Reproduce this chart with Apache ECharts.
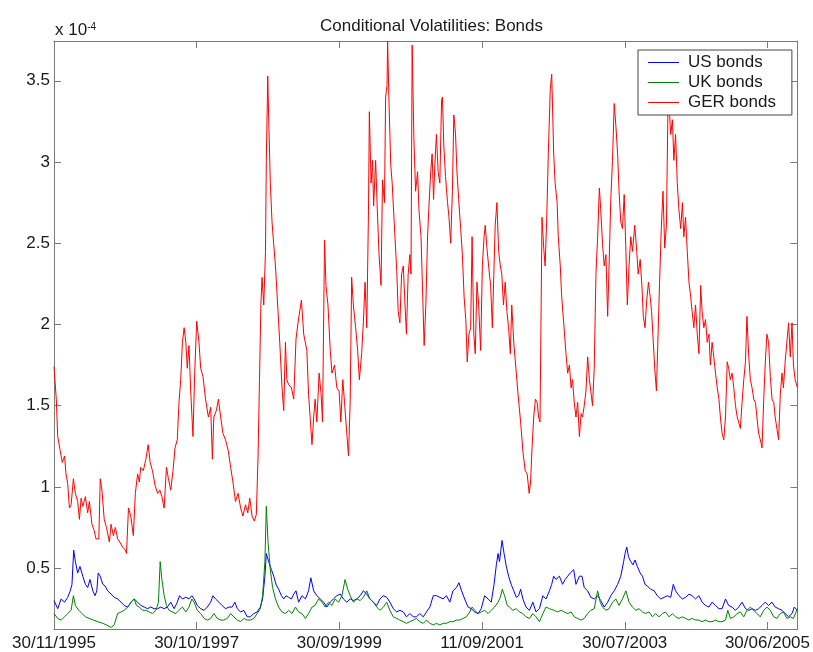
<!DOCTYPE html>
<html><head><meta charset="utf-8">
<script src="https://cdn.jsdelivr.net/npm/echarts@6/dist/echarts.min.js"></script>
<style>html,body{margin:0;padding:0;background:#fff}#c{width:813px;height:652px}</style>
</head><body><div id="c"></div>
<script>
// x = observation number (daily, from 30/11/1995), y = conditional volatility in units of 1e-4
const tickLabels = ['30/11/1995','30/10/1997','30/09/1999','11/09/2001','30/07/2003','30/06/2005'];
const seriesNames = ['US bonds','UK bonds','GER bonds'];

const usBonds = [[0,0.30],[13,0.25],[25,0.31],[37,0.29],[48,0.32],[57,0.36],[63,0.40],[69,0.61],[75,0.54],[83,0.47],[91,0.51],[101,0.45],[110,0.40],[118,0.38],[126,0.43],[136,0.36],[144,0.33],[150,0.36],[155,0.47],[162,0.45],[171,0.40],[179,0.39],[188,0.36],[200,0.34],[211,0.32],[223,0.31],[235,0.29],[246,0.27],[258,0.26],[270,0.29],[281,0.31],[293,0.29],[304,0.27],[316,0.26],[328,0.25],[339,0.26],[351,0.25],[363,0.25],[374,0.26],[386,0.25],[397,0.26],[409,0.29],[421,0.25],[432,0.29],[440,0.33],[450,0.31],[462,0.32],[473,0.31],[483,0.33],[491,0.31],[502,0.27],[514,0.25],[526,0.24],[537,0.26],[549,0.29],[557,0.33],[566,0.31],[578,0.29],[589,0.27],[601,0.25],[613,0.26],[624,0.26],[634,0.29],[642,0.25],[654,0.23],[665,0.24],[677,0.20],[688,0.20],[700,0.22],[712,0.23],[723,0.26],[731,0.31],[739,0.45],[744,0.59],[752,0.54],[762,0.49],[770,0.45],[778,0.40],[787,0.37],[797,0.33],[805,0.31],[813,0.33],[822,0.32],[832,0.31],[840,0.34],[848,0.36],[857,0.29],[869,0.33],[881,0.31],[892,0.36],[900,0.44],[910,0.36],[921,0.33],[933,0.31],[945,0.29],[956,0.26],[968,0.29],[979,0.31],[991,0.33],[1003,0.34],[1014,0.31],[1026,0.29],[1038,0.31],[1049,0.30],[1061,0.31],[1073,0.33],[1084,0.36],[1096,0.34],[1107,0.31],[1119,0.29],[1131,0.27],[1142,0.31],[1154,0.33],[1166,0.32],[1177,0.29],[1189,0.25],[1201,0.23],[1212,0.24],[1224,0.23],[1235,0.20],[1247,0.22],[1259,0.20],[1270,0.20],[1282,0.22],[1294,0.20],[1305,0.23],[1317,0.26],[1329,0.33],[1340,0.33],[1352,0.32],[1364,0.31],[1375,0.33],[1387,0.29],[1398,0.36],[1410,0.38],[1419,0.41],[1428,0.36],[1439,0.31],[1451,0.26],[1462,0.25],[1474,0.23],[1486,0.22],[1497,0.25],[1509,0.33],[1521,0.31],[1532,0.29],[1542,0.40],[1550,0.52],[1556,0.59],[1561,0.54],[1570,0.67],[1577,0.59],[1585,0.51],[1593,0.45],[1602,0.40],[1611,0.36],[1620,0.32],[1628,0.33],[1635,0.37],[1643,0.31],[1654,0.26],[1666,0.24],[1678,0.29],[1689,0.23],[1701,0.25],[1713,0.33],[1724,0.31],[1736,0.36],[1744,0.40],[1751,0.45],[1759,0.43],[1771,0.45],[1782,0.40],[1791,0.43],[1800,0.45],[1809,0.47],[1821,0.49],[1829,0.40],[1841,0.45],[1850,0.45],[1858,0.38],[1870,0.36],[1881,0.32],[1893,0.31],[1905,0.33],[1916,0.30],[1928,0.26],[1940,0.29],[1951,0.33],[1963,0.36],[1975,0.40],[1986,0.45],[1996,0.54],[2001,0.59],[2007,0.63],[2013,0.57],[2021,0.54],[2029,0.52],[2036,0.55],[2044,0.51],[2054,0.47],[2062,0.45],[2071,0.40],[2079,0.39],[2091,0.37],[2103,0.36],[2114,0.33],[2126,0.31],[2138,0.32],[2149,0.33],[2161,0.32],[2170,0.40],[2178,0.36],[2190,0.33],[2202,0.31],[2213,0.32],[2225,0.34],[2236,0.33],[2248,0.31],[2260,0.33],[2271,0.29],[2283,0.27],[2295,0.26],[2306,0.29],[2318,0.27],[2330,0.25],[2341,0.25],[2353,0.31],[2364,0.27],[2376,0.26],[2388,0.24],[2399,0.26],[2411,0.29],[2423,0.25],[2434,0.24],[2446,0.25],[2458,0.24],[2469,0.25],[2481,0.27],[2492,0.29],[2504,0.27],[2516,0.29],[2527,0.26],[2539,0.25],[2551,0.24],[2562,0.22],[2574,0.20],[2586,0.22],[2594,0.26],[2605,0.24]];

const ukBonds = [[0,0.22],[13,0.19],[25,0.18],[37,0.20],[48,0.22],[60,0.24],[68,0.33],[75,0.27],[87,0.24],[98,0.22],[110,0.20],[124,0.19],[138,0.18],[153,0.17],[171,0.16],[184,0.15],[200,0.135],[211,0.15],[223,0.22],[235,0.23],[246,0.24],[258,0.26],[270,0.29],[281,0.31],[289,0.27],[299,0.26],[310,0.24],[322,0.24],[333,0.23],[345,0.22],[357,0.24],[366,0.29],[372,0.54],[378,0.43],[386,0.33],[394,0.27],[403,0.24],[415,0.23],[427,0.22],[438,0.24],[450,0.26],[462,0.23],[473,0.26],[483,0.31],[491,0.29],[502,0.24],[514,0.22],[526,0.19],[537,0.18],[549,0.19],[560,0.22],[572,0.19],[584,0.18],[595,0.18],[607,0.19],[619,0.22],[630,0.20],[642,0.18],[654,0.17],[665,0.19],[677,0.18],[688,0.18],[700,0.19],[712,0.22],[723,0.25],[731,0.33],[739,0.54],[744,0.88],[750,0.66],[758,0.49],[766,0.38],[776,0.31],[787,0.26],[799,0.23],[811,0.22],[822,0.24],[834,0.22],[846,0.26],[857,0.23],[869,0.22],[881,0.19],[892,0.22],[904,0.26],[915,0.27],[927,0.31],[939,0.29],[950,0.26],[962,0.29],[974,0.27],[985,0.31],[997,0.29],[1009,0.33],[1020,0.43],[1029,0.37],[1038,0.33],[1049,0.29],[1061,0.31],[1073,0.30],[1084,0.32],[1096,0.36],[1107,0.31],[1119,0.29],[1131,0.26],[1142,0.24],[1154,0.26],[1166,0.29],[1177,0.24],[1189,0.20],[1201,0.19],[1212,0.18],[1224,0.17],[1235,0.16],[1247,0.17],[1259,0.18],[1270,0.19],[1282,0.17],[1294,0.16],[1305,0.18],[1317,0.16],[1329,0.15],[1340,0.16],[1352,0.15],[1364,0.16],[1375,0.16],[1387,0.17],[1398,0.17],[1410,0.18],[1422,0.18],[1433,0.19],[1445,0.20],[1457,0.23],[1465,0.26],[1474,0.24],[1486,0.22],[1497,0.23],[1509,0.24],[1521,0.22],[1532,0.24],[1544,0.26],[1556,0.29],[1564,0.32],[1571,0.37],[1579,0.33],[1588,0.27],[1596,0.26],[1608,0.24],[1620,0.25],[1631,0.23],[1643,0.22],[1654,0.20],[1666,0.19],[1678,0.22],[1689,0.20],[1701,0.17],[1713,0.22],[1724,0.26],[1736,0.25],[1742,0.25],[1753,0.24],[1765,0.23],[1777,0.24],[1788,0.23],[1800,0.22],[1812,0.23],[1823,0.20],[1835,0.19],[1847,0.18],[1858,0.19],[1870,0.22],[1881,0.24],[1893,0.25],[1905,0.36],[1914,0.29],[1922,0.26],[1934,0.24],[1945,0.25],[1957,0.29],[1969,0.31],[1980,0.27],[1992,0.31],[2004,0.36],[2015,0.29],[2027,0.26],[2039,0.24],[2050,0.25],[2062,0.23],[2073,0.22],[2085,0.23],[2097,0.20],[2108,0.22],[2120,0.20],[2132,0.22],[2143,0.23],[2155,0.20],[2167,0.22],[2178,0.20],[2190,0.19],[2202,0.20],[2213,0.19],[2225,0.18],[2236,0.19],[2248,0.18],[2260,0.18],[2271,0.17],[2283,0.18],[2295,0.17],[2306,0.17],[2318,0.18],[2330,0.17],[2341,0.17],[2353,0.18],[2361,0.24],[2370,0.19],[2382,0.20],[2394,0.22],[2405,0.23],[2417,0.20],[2428,0.24],[2440,0.26],[2452,0.24],[2463,0.22],[2475,0.20],[2487,0.24],[2498,0.26],[2510,0.24],[2522,0.20],[2533,0.19],[2545,0.22],[2556,0.23],[2568,0.19],[2580,0.20],[2591,0.19],[2605,0.25]];

const gerBonds = [[0,1.74],[8,1.54],[13,1.31],[22,1.22],[29,1.15],[37,1.19],[42,1.08],[48,1.02],[54,0.87],[60,0.89],[68,1.05],[75,0.96],[83,0.91],[89,0.80],[95,0.93],[101,0.88],[110,0.94],[118,0.84],[124,0.91],[133,0.77],[141,0.73],[147,0.68],[157,0.68],[162,1.05],[168,0.98],[176,0.80],[184,0.75],[194,0.66],[200,0.77],[208,0.70],[215,0.75],[223,0.68],[231,0.66],[240,0.63],[250,0.61],[254,0.59],[261,0.87],[269,0.82],[278,0.70],[285,0.96],[293,1.08],[299,1.03],[304,1.12],[313,1.10],[322,1.17],[330,1.26],[337,1.15],[345,1.10],[354,1.01],[363,0.96],[371,0.98],[378,0.94],[386,0.87],[394,1.12],[401,1.05],[409,0.98],[417,1.10],[424,1.24],[432,1.29],[438,1.52],[444,1.66],[450,1.89],[456,1.98],[462,1.89],[467,1.73],[473,1.87],[479,1.59],[487,1.31],[493,1.70],[500,2.02],[508,1.89],[514,1.73],[522,1.68],[531,1.54],[541,1.43],[549,1.49],[555,1.17],[560,1.43],[569,1.47],[576,1.54],[584,1.43],[592,1.33],[601,1.29],[611,1.22],[619,1.12],[627,1.03],[636,0.91],[645,0.96],[654,0.87],[662,0.82],[671,0.89],[679,0.84],[686,0.93],[694,0.82],[702,0.79],[709,0.83],[715,1.19],[720,1.66],[725,2.12],[729,2.29],[735,2.12],[741,2.45],[744,3.01],[749,3.53],[752,3.29],[758,2.87],[764,2.63],[770,2.49],[776,2.36],[785,2.08],[791,1.89],[799,1.61],[805,1.47],[811,1.89],[816,1.66],[822,1.63],[832,1.61],[840,1.54],[848,1.91],[855,2.01],[867,2.15],[875,1.94],[886,1.84],[892,1.57],[904,1.26],[910,1.43],[915,1.54],[921,1.40],[929,1.70],[936,1.57],[941,1.40],[948,2.52],[953,2.24],[960,2.12],[968,1.84],[974,1.70],[983,1.75],[991,1.61],[999,1.59],[1005,1.40],[1012,1.66],[1018,1.52],[1026,1.33],[1032,1.19],[1038,1.54],[1043,2.29],[1049,2.12],[1057,1.98],[1064,1.84],[1070,1.66],[1078,1.82],[1084,2.01],[1090,2.26],[1096,1.98],[1102,2.70],[1105,3.31],[1111,2.87],[1116,3.01],[1120,2.73],[1127,3.01],[1133,2.70],[1139,2.43],[1146,2.24],[1151,2.89],[1158,2.75],[1162,3.40],[1167,3.47],[1169,3.745],[1174,3.36],[1180,2.98],[1185,2.87],[1192,2.63],[1201,2.33],[1206,2.08],[1212,2.01],[1218,2.31],[1224,2.36],[1230,2.12],[1235,1.94],[1241,2.31],[1247,2.43],[1251,2.31],[1255,3.72],[1261,3.15],[1267,2.82],[1274,2.94],[1279,2.70],[1286,2.54],[1291,2.24],[1297,1.87],[1303,2.12],[1309,2.54],[1313,2.70],[1320,2.94],[1325,3.05],[1330,2.77],[1334,2.96],[1340,3.17],[1346,2.94],[1352,2.87],[1358,3.38],[1361,3.40],[1366,3.10],[1372,2.91],[1379,2.75],[1384,2.66],[1390,2.50],[1396,2.82],[1401,3.29],[1407,3.17],[1412,2.94],[1418,2.77],[1425,2.59],[1431,2.43],[1437,2.17],[1443,2.03],[1448,1.77],[1454,1.94],[1460,1.98],[1465,2.54],[1471,1.94],[1476,1.82],[1482,2.26],[1488,2.12],[1495,1.84],[1501,2.36],[1507,2.54],[1511,2.61],[1517,2.47],[1523,2.36],[1530,2.24],[1536,1.98],[1542,2.36],[1546,2.61],[1552,2.75],[1558,2.45],[1564,2.36],[1569,2.31],[1575,2.12],[1581,2.26],[1587,2.08],[1593,1.98],[1599,1.82],[1604,2.12],[1611,1.89],[1620,1.70],[1625,1.59],[1635,1.40],[1643,1.22],[1651,1.10],[1658,1.08],[1665,0.96],[1670,1.03],[1675,1.24],[1681,1.43],[1687,1.54],[1693,1.52],[1698,1.43],[1703,1.40],[1710,2.66],[1716,2.47],[1721,2.36],[1727,2.68],[1732,3.05],[1739,3.45],[1744,3.54],[1751,3.05],[1756,2.87],[1763,2.75],[1767,2.54],[1774,2.36],[1779,2.17],[1786,2.01],[1794,1.82],[1800,1.70],[1806,1.75],[1812,1.61],[1817,1.66],[1823,1.52],[1829,1.43],[1835,1.52],[1841,1.31],[1847,1.45],[1852,1.43],[1858,1.50],[1864,1.59],[1870,1.80],[1876,1.66],[1881,1.59],[1887,1.50],[1893,1.73],[1899,2.31],[1905,2.54],[1911,2.84],[1916,2.70],[1922,2.50],[1928,2.36],[1934,2.43],[1940,2.05],[1945,2.36],[1951,2.77],[1957,3.01],[1963,3.36],[1969,3.22],[1975,3.05],[1980,2.82],[1986,2.63],[1992,2.59],[1998,2.80],[2004,2.45],[2009,2.12],[2015,2.36],[2021,2.54],[2027,2.45],[2035,2.61],[2042,2.45],[2047,2.31],[2054,2.40],[2060,2.24],[2065,2.05],[2071,1.98],[2077,2.15],[2083,2.26],[2089,2.17],[2094,2.08],[2100,1.89],[2105,1.73],[2111,1.59],[2117,1.96],[2122,2.26],[2128,2.59],[2134,2.82],[2140,2.47],[2146,2.61],[2151,3.29],[2156,3.33],[2161,3.17],[2167,3.26],[2172,3.01],[2178,3.17],[2184,2.87],[2190,2.70],[2196,2.59],[2202,2.75],[2207,2.54],[2213,2.66],[2219,2.45],[2225,2.26],[2231,2.17],[2236,2.08],[2242,1.98],[2248,2.12],[2254,1.94],[2260,1.82],[2266,2.24],[2271,2.08],[2277,1.98],[2283,2.03],[2289,1.89],[2295,1.94],[2300,1.75],[2306,1.89],[2312,1.80],[2318,1.70],[2324,1.61],[2330,1.54],[2335,1.43],[2341,1.33],[2347,1.29],[2353,1.43],[2359,1.77],[2364,1.73],[2370,1.66],[2376,1.70],[2382,1.61],[2388,1.50],[2394,1.43],[2399,1.40],[2405,1.36],[2411,1.52],[2417,1.66],[2423,1.77],[2428,2.05],[2434,1.82],[2440,1.66],[2446,1.61],[2452,1.54],[2458,1.52],[2463,1.43],[2469,1.33],[2475,1.29],[2481,1.24],[2487,1.54],[2492,1.75],[2498,1.94],[2504,1.89],[2510,1.68],[2516,1.54],[2522,1.52],[2527,1.43],[2533,1.36],[2539,1.29],[2545,1.57],[2551,1.70],[2556,1.61],[2562,1.77],[2568,1.89],[2574,2.01],[2580,1.80],[2586,2.01],[2591,1.75],[2597,1.66],[2605,1.61]];

const FONT = '"Liberation Sans", Arial, Helvetica, sans-serif';
const TXT = '#1a1a1a';
const AX = '#7a7a7a';
const yMin = 0.125, yMax = 3.745, xMin = 0, xMax = 2605, xStep = 500;

function xAxisDef(pos, labels) {
  return {
    type: 'value', position: pos, min: xMin, max: xMax, interval: xStep,
    axisLine: { show: true, onZero: false, lineStyle: { color: AX, width: 1 } },
    axisTick: { show: true, inside: true, length: 7, lineStyle: { color: AX } },
    axisLabel: {
      show: labels, color: TXT, fontSize: 17, fontFamily: FONT, margin: 6, hideOverlap: false,
      formatter: v => (v % xStep === 0 ? tickLabels[v / xStep] : '')
    },
    splitLine: { show: false }
  };
}
function yAxisDef(pos, labels) {
  return {
    type: 'value', position: pos, min: yMin, max: yMax, splitNumber: 7,
    axisLine: { show: true, onZero: false, lineStyle: { color: AX, width: 1 } },
    axisTick: { show: true, inside: true, length: 7, lineStyle: { color: AX } },
    axisLabel: {
      show: labels, color: TXT, fontSize: 17, fontFamily: FONT, margin: 4, hideOverlap: false,
      formatter: v => (Math.abs(v * 2 - Math.round(v * 2)) < 1e-6 ? String(Math.round(v * 10) / 10) : '')
    },
    splitLine: { show: false }
  };
}
const colors = ['#0000ff', '#008000', '#ff0000'];
const datasets = [usBonds, ukBonds, gerBonds];

const chart = echarts.init(document.getElementById('c'), null, { renderer: 'canvas' });
chart.setOption({
  animation: false,
  backgroundColor: '#fff',
  title: {
    text: 'Conditional Volatilities: Bonds', left: 315, top: 13,
    textStyle: { fontSize: 17, fontWeight: 'normal', color: TXT, fontFamily: FONT }
  },
  grid: { left: 54, right: 12, top: 41, bottom: 23, containLabel: false },
  xAxis: [xAxisDef('bottom', true), xAxisDef('top', false)],
  yAxis: [yAxisDef('left', true), yAxisDef('right', false)],
  legend: {
    data: seriesNames, orient: 'vertical', left: 638, top: 50,
    icon: 'rect', itemWidth: 31, itemHeight: 1, itemGap: 3, padding: [4, 16, 4, 10],
    itemStyle: { borderWidth: 0 },
    borderColor: '#444', borderWidth: 1, borderRadius: 0, backgroundColor: '#fff',
    textStyle: { fontSize: 17, fontFamily: FONT, color: TXT, lineHeight: 17, padding: [0, 0, 0, 4] }
  },
  graphic: [{
    type: 'text', left: 55, top: 22, z: 100,
    style: {
      text: 'x 10{s|-4}', fontSize: 17, fontFamily: FONT, fill: TXT,
      rich: { s: { fontSize: 10, fontFamily: FONT, fill: TXT, verticalAlign: 'top' } }
    }
  }],
  series: seriesNames.map((n, i) => ({
    name: n, type: 'line', xAxisIndex: 0, yAxisIndex: 0,
    data: datasets[i], symbol: 'none', showSymbol: false, clip: true,
    lineStyle: { color: colors[i], width: 1 }, itemStyle: { color: colors[i] }
  }))
});
</script></body></html>
